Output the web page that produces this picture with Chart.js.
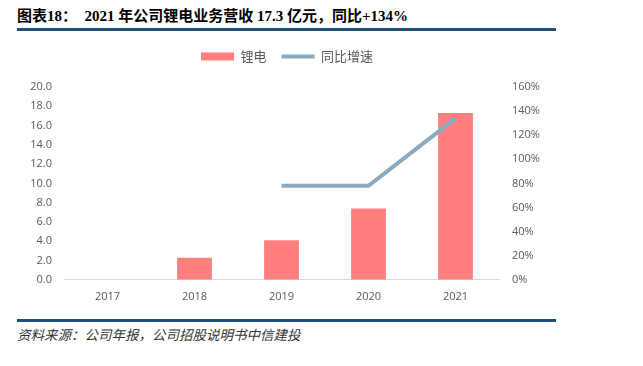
<!DOCTYPE html>
<html><head><meta charset="utf-8">
<script src="https://cdn.jsdelivr.net/npm/chart.js@4.4.1/dist/chart.umd.min.js"></script>
<style>
html,body{margin:0;padding:0;background:#fff;width:643px;height:366px;overflow:hidden;position:relative}
#title{position:absolute;left:17px;top:4px;font-family:"Liberation Serif","Noto Sans CJK SC";font-weight:bold;font-size:15px;color:#000;white-space:nowrap}
.rule{position:absolute;left:17px;width:539px;height:3px;background:#1F4E79}
#src{position:absolute;left:17px;top:324px;font-family:"Liberation Serif","Noto Sans CJK SC";font-style:italic;font-size:13.5px;color:#333;white-space:nowrap}
#wrap{position:absolute;left:0;top:35px;width:574px;height:278px}
</style></head><body>
<div id="title">图表18：&nbsp; 2021 年公司锂电业务营收 17.3 亿元，同比+134%</div>
<div class="rule" style="top:28px"></div>
<div id="wrap"><canvas id="c"></canvas></div>
<div class="rule" style="top:319px"></div>
<div id="src">资料来源：公司年报，公司招股说明书中信建投</div>
<script>
const categories = ['2017','2018','2019','2020','2021'];
const revenue = [0, 2.3, 4.1, 7.4, 17.3];
const growth = [null, null, 78, 78, 134];
const seriesNames = ['锂电','同比增速'];
const barColor = '#FF7F7F';
const lineColor = '#8AAAC2';
const tickFont = {family:'"Open Sans","Noto Sans CJK SC"', size:11};
const legendGap = {
  id:'legendGap',
  beforeUpdate(chart){
    const lg = chart.legend;
    if (lg && !lg._patched){
      const orig = lg.fit;
      lg.fit = function(){ orig.call(this); this.height = 52; };
      lg._patched = true;
    }
  }
};
new Chart(document.getElementById('c'), {
  data: {
    labels: categories,
    datasets: [
      {type:'line', label: seriesNames[1], data: growth, yAxisID:'y1', borderColor: lineColor, backgroundColor: lineColor, borderWidth:4, pointRadius:0, tension:0, order:0},
      {type:'bar', label: seriesNames[0], data: revenue, yAxisID:'y', backgroundColor: barColor, barPercentage:0.4, categoryPercentage:1, order:1}
    ]
  },
  plugins:[legendGap],
  options: {
    responsive:true, maintainAspectRatio:false, animation:false,
    layout:{padding:{left:0,right:0,top:0,bottom:0}},
    plugins:{
      tooltip:{enabled:false},
      legend:{
        position:'top',
        labels:{
          usePointStyle:true, pointStyleWidth:33, boxHeight:8,
          font:{family:'"Noto Sans CJK SC"', size:13}, color:'#595959', padding:15,
          generateLabels(chart){
            const ds = chart.data.datasets;
            return [
              {text: ds[1].label, fillStyle: barColor, strokeStyle: barColor, lineWidth:0, pointStyle:'rect', datasetIndex:1, fontColor:'#595959'},
              {text: ds[0].label, fillStyle: lineColor, strokeStyle: lineColor, lineWidth:4, pointStyle:'line', datasetIndex:0, fontColor:'#595959'}
            ];
          }
        }
      }
    },
    scales:{
      x:{
        grid:{display:false, drawTicks:false},
        border:{display:true, color:'#D9D9D9', width:1},
        ticks:{font:tickFont, color:'#595959', padding:10}
      },
      y:{
        position:'left', min:0, max:20,
        ticks:{stepSize:2, font:tickFont, color:'#595959', padding:12, callback:v=>v.toFixed(1)},
        grid:{display:false, drawTicks:false}, border:{display:false},
        afterFit(s){ s.width = 64; }
      },
      y1:{
        position:'right', min:0, max:160,
        ticks:{stepSize:20, font:tickFont, color:'#595959', padding:13, callback:v=>v+'%'},
        grid:{display:false, drawTicks:false}, border:{display:false},
        afterFit(s){ s.width = 75; }
      }
    }
  }
});
</script>
</body></html>
